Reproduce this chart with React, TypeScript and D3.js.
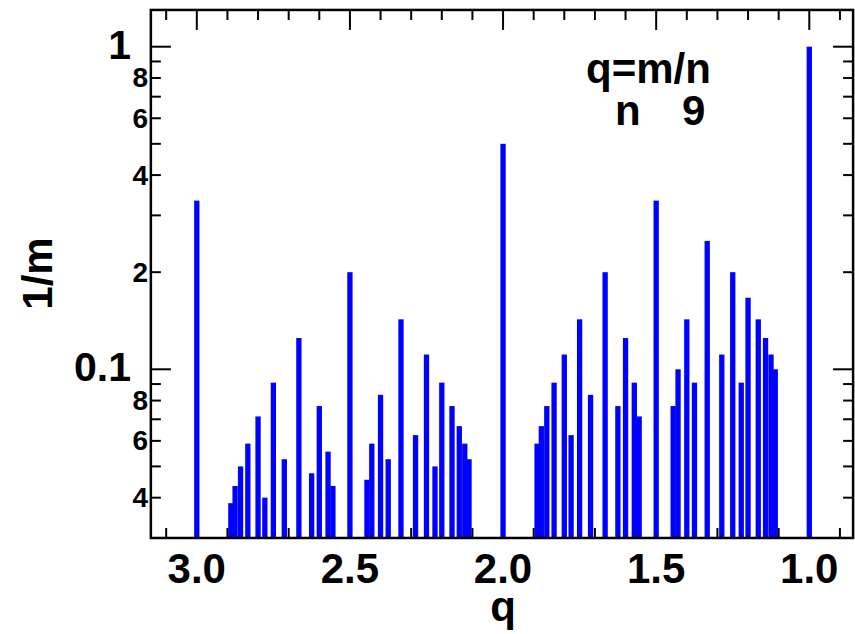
import React from "react";
import * as d3 from "d3";

// Rational numbers q = m/n with n <= 9 and 1 <= q <= 3
const mValues = [
  1, 2, 3,
  3, 5,
  4, 5, 7, 8,
  5, 7, 9, 11,
  6, 7, 8, 9, 11, 12, 13, 14,
  7, 11, 13, 17,
  8, 9, 10, 11, 12, 13, 15, 16, 17, 18, 19, 20,
  9, 11, 13, 15, 17, 19, 21, 23,
  10, 11, 13, 14, 16, 17, 19, 20, 22, 23, 25, 26,
];
const nValues = [
  1, 1, 1,
  2, 2,
  3, 3, 3, 3,
  4, 4, 4, 4,
  5, 5, 5, 5, 5, 5, 5, 5,
  6, 6, 6, 6,
  7, 7, 7, 7, 7, 7, 7, 7, 7, 7, 7, 7,
  8, 8, 8, 8, 8, 8, 8, 8,
  9, 9, 9, 9, 9, 9, 9, 9, 9, 9, 9, 9,
];

const xMajorTicks = [3, 2.5, 2, 1.5, 1];
const xTickLabels = ["3.0", "2.5", "2.0", "1.5", "1.0"];
const yMajorTicks = [1, 0.1];
const yMajorLabels = ["1", "0.1"];
const yMinorTicks = [0.9, 0.8, 0.7, 0.6, 0.5, 0.4, 0.3, 0.2, 0.09, 0.08, 0.07, 0.06, 0.05, 0.04];
const yMinorLabeled = [0.8, 0.6, 0.4, 0.2, 0.08, 0.06, 0.04];
const yMinorLabels = ["8", "6", "4", "2", "8", "6", "4"];

const FONT = "'Liberation Sans', Arial, Helvetica, sans-serif";

export default function App() {
  const x = d3.scaleLinear().domain([3, 1]).range([196.8, 809.3]);
  const y = d3.scaleLog().domain([0.1, 1]).range([369.3, 46.7]);
  const left = x(3.15);
  const right = x(0.857);
  const top = y(1.3);
  const bottom = y(0.03);

  const data = mValues.map((m, i) => ({ q: m / nValues[i], v: 1 / m }));
  const xMinor = d3.range(9, 32).map((k) => k / 10).filter((t) => !xMajorTicks.some((M) => Math.abs(M - t) < 1e-9));
  const barW = 5.3;

  return (
    <svg width={855} height={634} style={{ position: "absolute", left: 0, top: 0, background: "#fff" }}>
      <g stroke="#000" strokeWidth={2}>
        {xMinor.map((t) => (
          <g key={"xm" + t}>
            <line x1={x(t)} x2={x(t)} y1={bottom} y2={bottom - 10} />
            <line x1={x(t)} x2={x(t)} y1={top} y2={top + 10} />
          </g>
        ))}
        {xMajorTicks.map((t) => (
          <g key={"xM" + t}>
            <line x1={x(t)} x2={x(t)} y1={bottom} y2={bottom - 20} />
            <line x1={x(t)} x2={x(t)} y1={top} y2={top + 20} />
          </g>
        ))}
        {yMinorTicks.map((t) => (
          <g key={"ym" + t}>
            <line x1={left} x2={left + 10} y1={y(t)} y2={y(t)} />
            <line x1={right} x2={right - 10} y1={y(t)} y2={y(t)} />
          </g>
        ))}
        {yMajorTicks.map((t) => (
          <g key={"yM" + t}>
            <line x1={left} x2={left + 20} y1={y(t)} y2={y(t)} />
            <line x1={right} x2={right - 20} y1={y(t)} y2={y(t)} />
          </g>
        ))}
      </g>
      <g fill="#0000ff">
        {data.map((d, i) => (
          <rect key={i} x={x(d.q) - barW / 2} width={barW} y={y(d.v)} height={bottom - y(d.v)} />
        ))}
      </g>
      <rect x={left} y={top} width={right - left} height={bottom - top} fill="none" stroke="#000" strokeWidth={2.5} />
      <g fontFamily={FONT} fontWeight="bold" fill="#000">
        {xMajorTicks.map((t, i) => (
          <text key={"xl" + t} x={x(t)} y={583} textAnchor="middle" fontSize={42}>
            {xTickLabels[i]}
          </text>
        ))}
        {yMajorTicks.map((t, i) => (
          <text key={"yl" + t} x={131} y={y(t) + 12} textAnchor="end" fontSize={41}>
            {yMajorLabels[i]}
          </text>
        ))}
        {yMinorLabeled.map((t, i) => (
          <text key={"yml" + t} x={148} y={y(t) + 9.5} textAnchor="end" fontSize={28}>
            {yMinorLabels[i]}
          </text>
        ))}
        <text x={503} y={621} textAnchor="middle" fontSize={42}>q</text>
        <text transform="translate(51.5,273.5) rotate(-90)" textAnchor="middle" fontSize={42}>1/m</text>
        <text x={586} y={83} fontSize={42}>q=m/n</text>
        <text x={615} y={125} fontSize={42}>n</text>
        <text x={682} y={125} fontSize={42}>9</text>
      </g>
    </svg>
  );
}
